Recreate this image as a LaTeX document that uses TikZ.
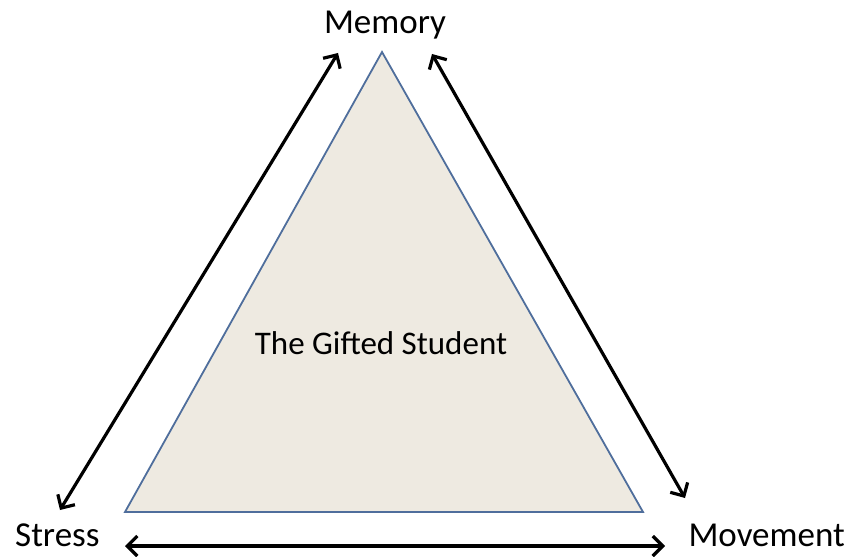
\documentclass[tikz,border=0pt]{standalone}
\usepackage{fontspec}
\setmainfont{Carlito}
\usepackage{tikz}
\usetikzlibrary{arrows.meta,positioning}
\definecolor{arena}{HTML}{EEEAE1}
\definecolor{borde}{HTML}{4F6E9C}

\begin{document}
\begin{tikzpicture}[x=1pt,y=-1pt,
    etiqueta/.style={inner sep=0pt,anchor=base,font=\fontsize{35}{42}\selectfont},
    flecha/.style={line width=3.2pt,{Straight Barb[length=10pt,width=20pt]}-{Straight Barb[length=10pt,width=20pt]}}]
  \useasboundingbox (0,0) rectangle (850,556);
  % triangulo central
  \coordinate (cima) at (382,52);
  \coordinate (izq) at (125,512);
  \coordinate (der) at (643,512);
  \filldraw[fill=arena,draw=borde,line width=1.8pt] (cima) -- (izq) -- (der) -- cycle;
  \node[etiqueta,font=\fontsize{33}{40}\selectfont] (centro) at (381,354) {The Gifted Student};
  % vertices
  \node[etiqueta] (memoria) at (385,34) {Memory};
  \node[etiqueta,anchor=base west] (estres) at (15,546) {Stress};
  \node[etiqueta,anchor=base east] (movim) at (845,546) {Movement};
  % extremos de las flechas
  \coordinate (m1) at (338,53);
  \coordinate (m2) at (432,54);
  \coordinate (s1) at (60,510);
  \coordinate (s2) at (125,546);
  \coordinate (v1) at (685,498);
  \coordinate (v2) at (665,546);
  \draw[flecha] (s1) -- (m1);
  \draw[flecha] (m2) -- (v1);
  \draw[flecha] (s2) -- (v2);
\end{tikzpicture}
\end{document}
